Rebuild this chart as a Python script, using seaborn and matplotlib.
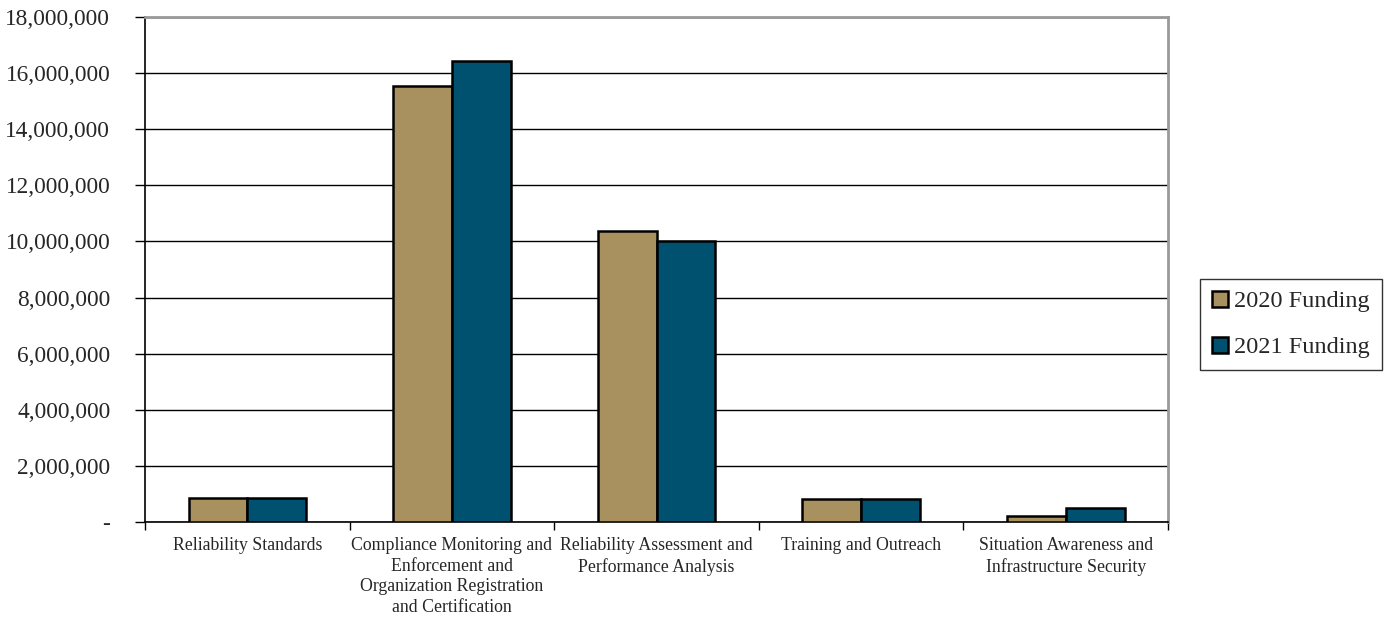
import numpy as np
import pandas as pd
import matplotlib
matplotlib.use("Agg")
import matplotlib.pyplot as plt
import seaborn as sns
from matplotlib.ticker import FuncFormatter, FixedLocator

categories = [
    "Reliability Standards",
    "Compliance Monitoring and Enforcement and Organization Registration and Certification",
    "Reliability Assessment and Performance Analysis",
    "Training and Outreach",
    "Situation Awareness and Infrastructure Security",
]
tick_labels = [
    "Reliability Standards",
    "Compliance Monitoring and\nEnforcement and\nOrganization Registration\nand Certification",
    "Reliability Assessment and\nPerformance Analysis",
    "Training and Outreach",
    "Situation Awareness and\nInfrastructure Security",
]
funding_2020 = [860000, 15550000, 10370000, 810000, 210000]
funding_2021 = [860000, 16430000, 10030000, 810000, 500000]
series = ["2020 Funding", "2021 Funding"]
colors = ["#A8915F", "#00506F"]


def build_frame():
    rows = []
    for cat, a, b in zip(categories, funding_2020, funding_2021):
        rows.append({"category": cat, "series": series[0], "value": a})
        rows.append({"category": cat, "series": series[1], "value": b})
    return pd.DataFrame(rows)


def fmt(v, pos):
    if v == 0:
        return "-"
    return f"{int(v):,}"


def main():
    df = build_frame()
    sns.set_style("white")
    plt.rcParams["font.family"] = ["Liberation Serif", "DejaVu Serif"]

    fig = plt.figure(figsize=(13.88, 6.17), dpi=100)
    ax = fig.add_axes([0.1045, 0.154, 0.737, 0.8185])

    sns.barplot(
        data=df, x="category", y="value", hue="series",
        palette=colors, saturation=1, width=0.575, edgecolor="black",
        linewidth=1.8, ax=ax, zorder=3,
    )

    ax.set_ylim(0, 18000000)
    ax.set_xlim(-0.5, len(categories) - 0.5)
    ax.yaxis.set_major_locator(FixedLocator(np.arange(0, 18000001, 2000000)))
    ax.yaxis.set_major_formatter(FuncFormatter(fmt))
    ax.grid(axis="y", color="black", linewidth=1.0, zorder=0)
    ax.set_axisbelow(True)

    ax.set_xticks(range(len(categories)))
    ax.set_xticklabels(tick_labels, fontsize=12.8, linespacing=1.27)
    ax.xaxis.set_minor_locator(FixedLocator(np.arange(-0.5, len(categories), 1.0)))
    ax.tick_params(axis="x", which="major", bottom=True, length=0, pad=11)
    ax.tick_params(axis="x", which="minor", bottom=True, length=6, width=1,
                   color="black", direction="out")
    ax.tick_params(axis="y", left=True, length=7, width=1, color="black",
                   direction="out", labelsize=16.8, pad=18)

    for s in ["left", "bottom"]:
        ax.spines[s].set_color("black")
        ax.spines[s].set_linewidth(1.2)
    for s in ["top", "right"]:
        ax.spines[s].set_color("#999999")
        ax.spines[s].set_linewidth(2)

    ax.set_xlabel("")
    ax.set_ylabel("")

    leg = ax.legend(
        loc="center left", bbox_to_anchor=(1.031, 0.391), fontsize=17.5,
        frameon=True, fancybox=False, edgecolor="black",
        handlelength=0.65, handleheight=0.65, handletextpad=0.25,
        labelspacing=1.0, borderpad=0.5, borderaxespad=0,
    )
    leg.get_frame().set_linewidth(1.0)

    fig.savefig("out.png", dpi=100)


if __name__ == "__main__":
    main()
